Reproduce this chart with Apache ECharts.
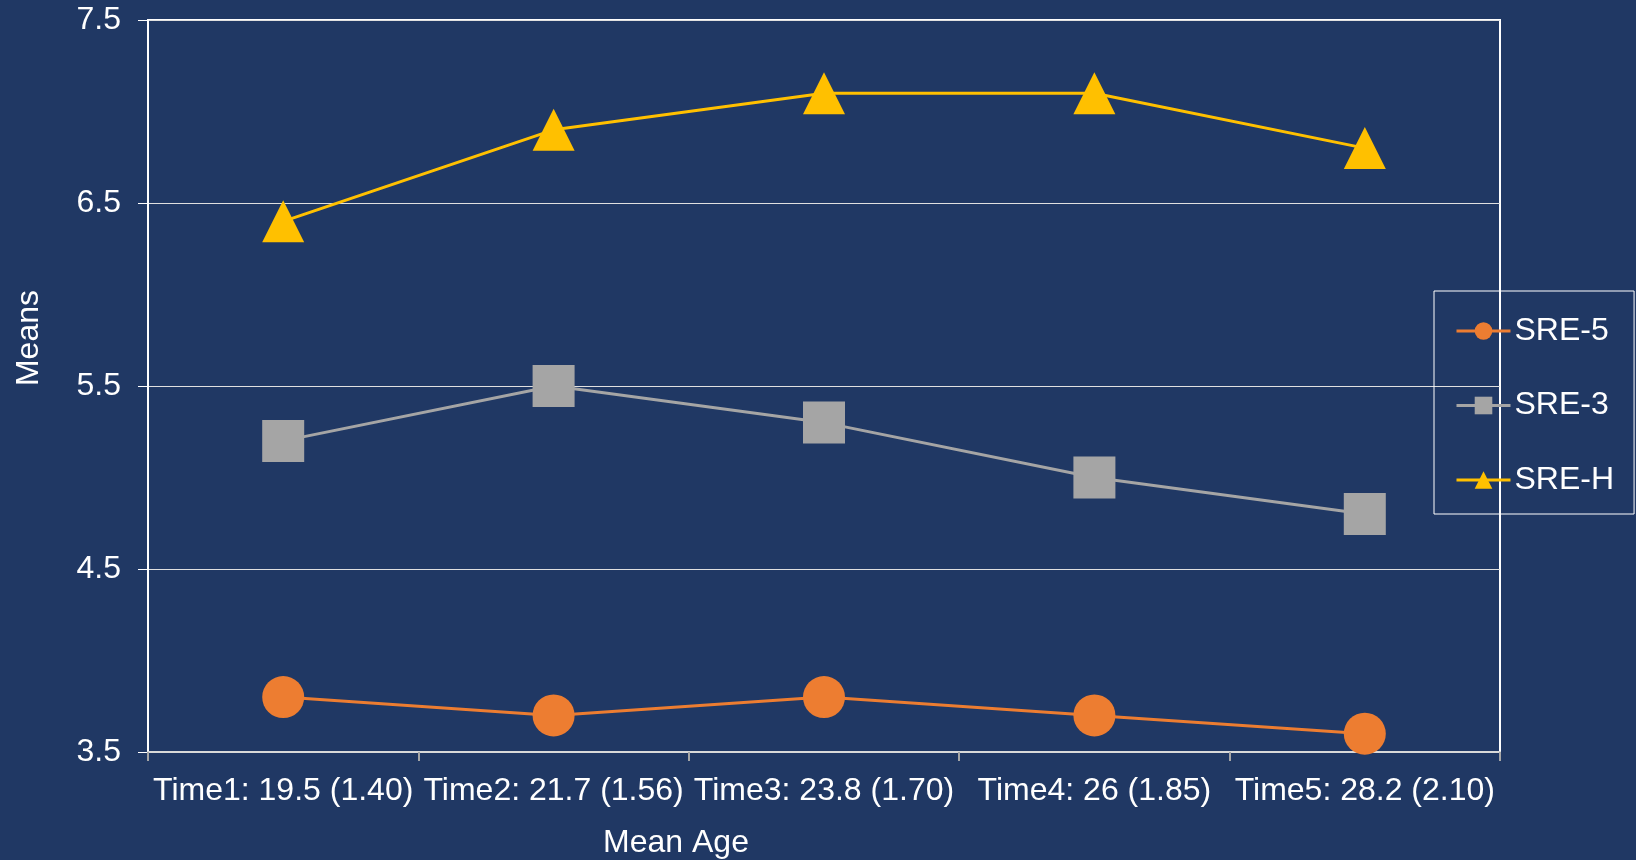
<!DOCTYPE html>
<html>
<head>
<meta charset="utf-8">
<title>SRE means by mean age</title>
<script src="https://cdn.jsdelivr.net/npm/echarts@6/dist/echarts.min.js"></script>
<style>
  html, body { margin: 0; padding: 0; background: #203864; }
  #chart { width: 1636px; height: 860px; }
</style>
</head>
<body>
<div id="chart"></div>
<script>
// Measurement occasions with mean age (SD)
const timePoints = [
  'Time1: 19.5 (1.40)',
  'Time2: 21.7 (1.56)',
  'Time3: 23.8 (1.70)',
  'Time4: 26 (1.85)',
  'Time5: 28.2 (2.10)'
];

// Scale means per occasion
const sre5 = [3.8, 3.7, 3.8, 3.7, 3.6];
const sre3 = [5.2, 5.5, 5.3, 5.0, 4.8];
const sreH = [6.4, 6.9, 7.1, 7.1, 6.8];

const seriesNames = ['SRE-5', 'SRE-3', 'SRE-H'];

// Y axis range and step
const yMin = 3.5;
const yMax = 7.5;
const yStep = 1;

const FONT = "'Liberation Sans', Arial, sans-serif";
const FS = 32;

const chart = echarts.init(document.getElementById('chart'), null, { renderer: 'canvas' });

function lineSeries(name, data, color, symbol) {
  return {
    name: name,
    type: 'line',
    data: data,
    symbol: symbol,
    symbolSize: 42,
    showSymbol: true,
    lineStyle: { color: color, width: 3 },
    itemStyle: { color: color },
    emphasis: { disabled: true },
    animation: false
  };
}

chart.setOption({
  backgroundColor: '#203864',
  textStyle: { fontFamily: FONT },
  grid: {
    left: 148,
    right: 136,
    top: 20,
    bottom: 108,
    show: true,
    borderColor: '#ffffff',
    borderWidth: 2,
    backgroundColor: 'transparent'
  },
  legend: {
    orient: 'vertical',
    left: 1434,
    top: 291,
    data: seriesNames,
    itemWidth: 54,
    itemHeight: 22,
    itemGap: 42.5,
    padding: [24, 20, 18, 21],
    borderColor: '#ffffff',
    borderWidth: 1,
    lineStyle: { width: 3 },
    textStyle: { color: '#ffffff', fontSize: FS, fontFamily: FONT, padding: [0, 0, 0, -1] }
  },
  xAxis: {
    type: 'category',
    data: timePoints,
    boundaryGap: true,
    axisLine: { show: true, lineStyle: { color: '#d9d9d9', width: 2 } },
    axisTick: { show: true, length: 9, lineStyle: { color: '#a6a6a6', width: 2 } },
    axisLabel: { color: '#ffffff', fontSize: FS, fontFamily: FONT, margin: 23, interval: 0 },
    splitLine: { show: false }
  },
  yAxis: {
    type: 'value',
    min: yMin,
    max: yMax,
    interval: yStep,
    axisLine: { show: true, lineStyle: { color: '#ffffff', width: 2 } },
    axisTick: { show: true, length: 10, lineStyle: { color: '#ffffff', width: 1 } },
    axisLabel: {
      color: '#ffffff', fontSize: FS, fontFamily: FONT, margin: 27,
      formatter: v => v.toFixed(1)
    },
    splitLine: { show: true, lineStyle: { color: '#e0e0e0', width: 1 } }
  },
  graphic: [
    {
      type: 'text',
      left: 13, top: 290,
      rotation: Math.PI / 2,
      style: { text: 'Means', fill: '#ffffff', font: FS + 'px ' + FONT }
    },
    {
      type: 'text',
      style: {
        text: 'Mean Age', fill: '#ffffff', font: FS + 'px ' + FONT,
        x: 676, y: 843, align: 'center', verticalAlign: 'middle'
      }
    }
  ],
  series: [
    lineSeries(seriesNames[0], sre5, '#ed7d31', 'circle'),
    lineSeries(seriesNames[1], sre3, '#a5a5a5', 'rect'),
    lineSeries(seriesNames[2], sreH, '#ffc000', 'triangle')
  ]
});
</script>
</body>
</html>
